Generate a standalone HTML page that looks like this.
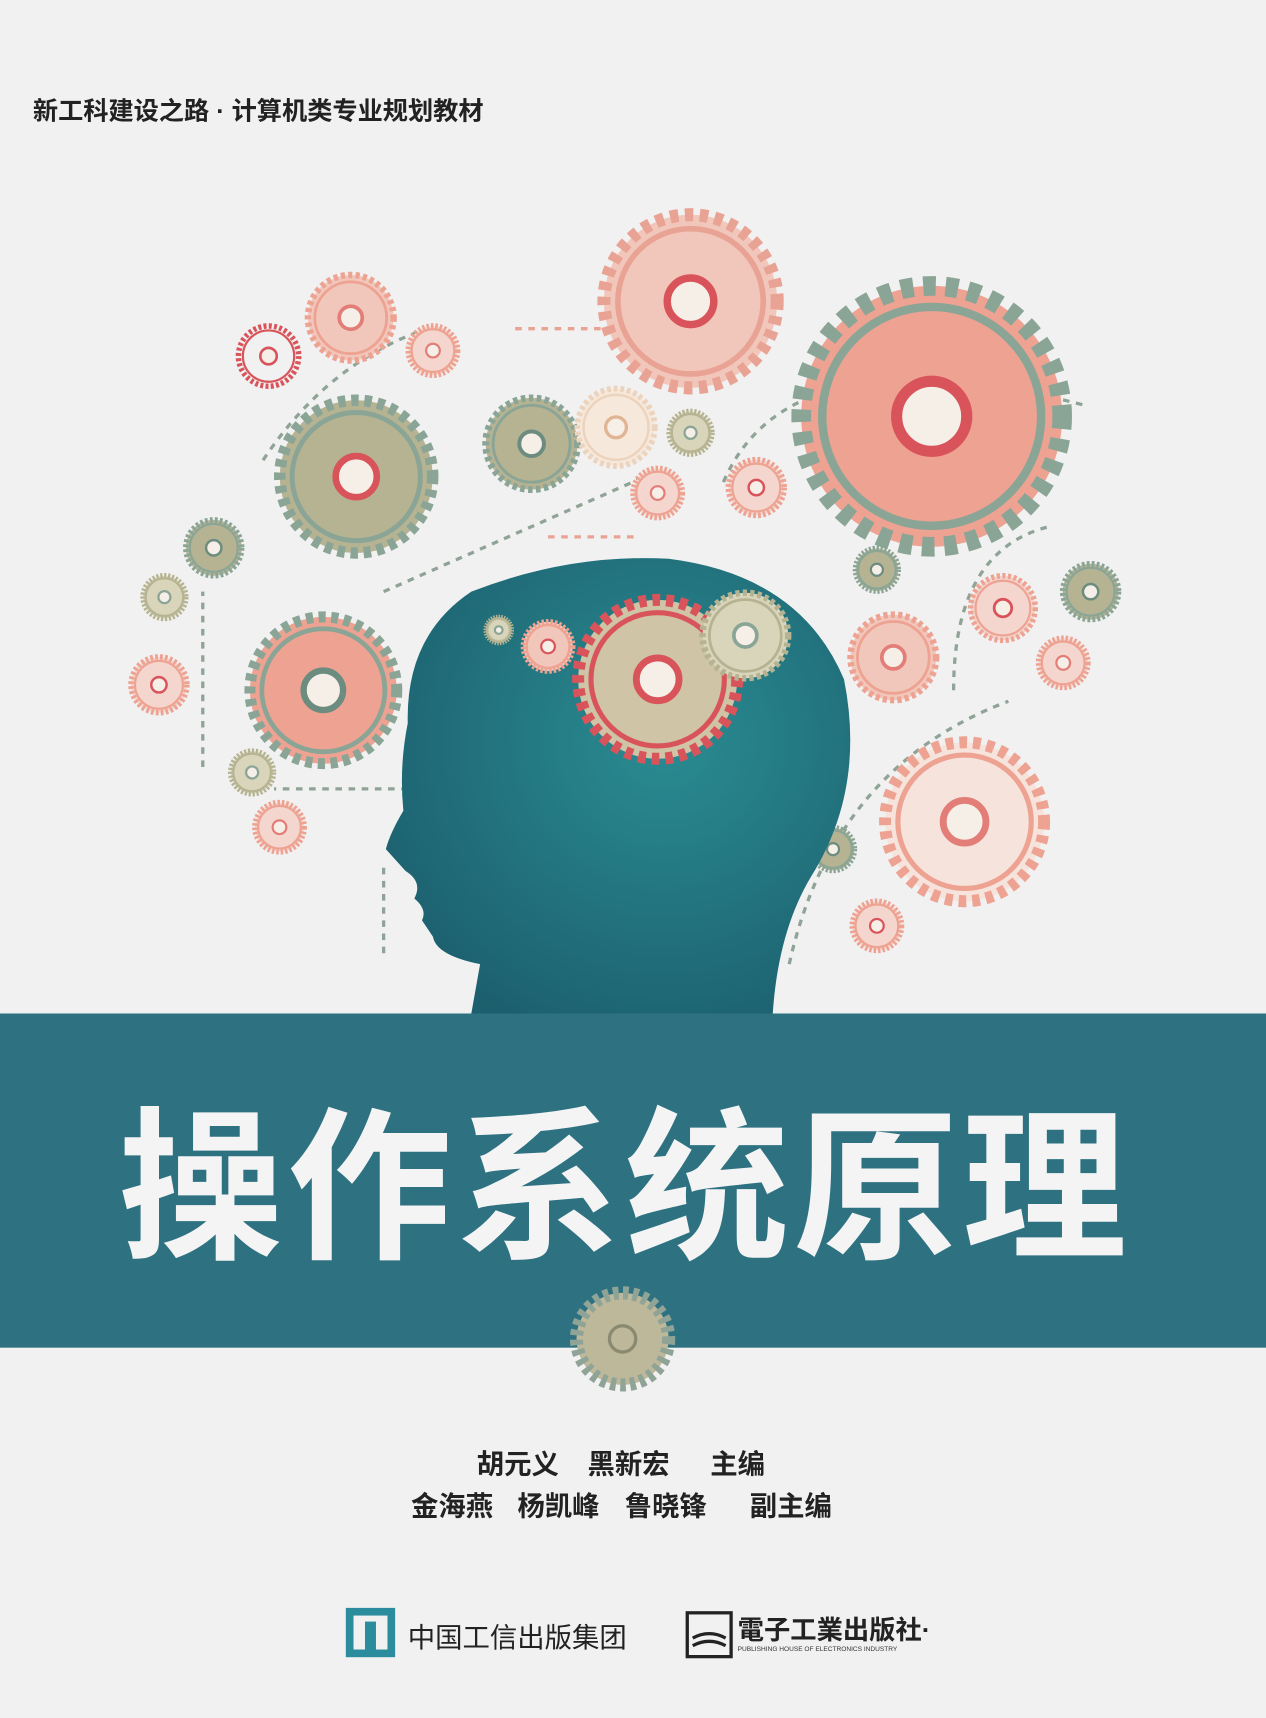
<!DOCTYPE html>
<html><head><meta charset="utf-8"><style>
html,body{margin:0;padding:0;background:#f1f1f1}
svg{display:block}
text{font-family:"Liberation Sans","Noto Sans CJK SC",sans-serif}
</style></head><body>
<svg width="1266" height="1718" viewBox="0 0 1155 1568" preserveAspectRatio="none" xmlns="http://www.w3.org/2000/svg">
<defs>
<radialGradient id="hg" cx="0.6" cy="0.4" r="0.7"><stop offset="0" stop-color="#2a8c92"/><stop offset="1" stop-color="#1c5f6e"/></radialGradient>
</defs>
<rect width="1155" height="1568" fill="#f1f1f1"/>
<text x="30" y="109" font-size="23" fill="#222" font-weight="bold">新工科建设之路 · 计算机类专业规划教材</text>

<g fill="none" stroke="#8fa496" stroke-width="3" stroke-dasharray="6 6">
<path d="M240,420 Q300,330 390,300"/><path d="M660,440 Q720,300 990,370"/><path d="M350,540 L600,430"/><path d="M870,630 Q870,500 960,480"/><path d="M185,700 L185,540"/><path d="M350,870 L350,790"/><path d="M720,880 Q760,700 920,640"/><path d="M420,720 L250,720"/><path d="M500,490 L580,490" stroke="#e9a394"/><path d="M470,300 L550,300" stroke="#e9a394"/>
</g>
<g id="gears"></g>

<path d="M430,925 L438,880 Q398,872 395,855 L385,840 Q390,830 378,820 Q386,805 370,795 L352,775 Q356,760 368,740 Q364,700 372,660 Q370,580 430,540 Q520,505 610,510 Q730,525 770,620 Q790,720 740,800 Q710,850 705,925 Z" fill="url(#hg)"/>
<g id="headgears"></g>

<rect x="0" y="925" width="1155" height="305" fill="#2e7282"/>
<text x="570" y="1137" text-anchor="middle" font-size="150" font-weight="bold" fill="#f4f4f4" letter-spacing="4">操作系统原理</text>
<g>
<circle cx="568" cy="1222" r="42" fill="#bdb89a" stroke="#8fa496" stroke-width="12" stroke-dasharray="5 4"/>
<circle cx="568" cy="1222" r="12" fill="none" stroke="#8a8a70" stroke-width="3"/>
</g>
<g font-size="25" fill="#222" font-weight="bold">
<text x="435" y="1345">胡元义</text><text x="536" y="1345">黑新宏</text><text x="648" y="1345">主编</text>
</g>
<g font-size="25" fill="#222" font-weight="bold">
<text x="375" y="1383">金海燕</text><text x="472" y="1383">杨凯峰</text><text x="570" y="1383">鲁晓锋</text><text x="684" y="1383">副主编</text>
</g>
<g>
<rect x="319" y="1471" width="38" height="38" fill="none" stroke="#2a8c9c" stroke-width="7"/>
<rect x="333" y="1480" width="10" height="26" fill="#2a8c9c"/>
<text x="372" y="1503" font-size="25" fill="#222" font-family="Liberation Serif,Noto Serif CJK SC,serif">中国工信出版集团</text>
</g>
<g>
<rect x="627" y="1472" width="40" height="40" fill="none" stroke="#222" stroke-width="3"/>
<path d="M632,1495 q15,-8 30,0 M632,1502 q15,-8 30,0" stroke="#222" stroke-width="3" fill="none"/>
<text x="673" y="1496" font-size="24" fill="#222" font-weight="bold">電子工業出版社·</text>
<text x="673" y="1507" font-size="6" fill="#333">PUBLISHING HOUSE OF ELECTRONICS INDUSTRY</text>
</g>
<script>
const gearsSpec=[
[630,275,85,'#e9a394','#f2c7bb','#d9545a'],[850,380,128,'#8aa596','#eda292','#d9545a'],
[325,435,75,'#8aa596','#b5b392','#d9545a'],[295,630,72,'#8aa596','#eda292','#6d8c80'],
[880,750,78,'#eda292','#f6e3dc','#e27d77'],[485,405,45,'#8aa596','#b5b392','#6d8c80'],
[320,290,42,'#eda292','#f2c7bb','#e27d77'],[245,325,30,'#d9545a','#f1f1f1','#d9545a'],
[562,390,38,'#ecd3bd','#f6e8da','#e0b593'],[195,500,28,'#8aa596','#b5b392','#6d8c80'],
[145,625,28,'#eda292','#f4d6ce','#d9545a'],[995,540,28,'#8aa596','#b5b392','#6d8c80'],
[970,605,25,'#eda292','#f4d6ce','#e27d77'],[915,555,32,'#eda292','#f4d6ce','#d9545a'],
[815,600,42,'#eda292','#f2c7bb','#e27d77'],[690,445,28,'#eda292','#f4d6ce','#d9545a'],
[600,450,25,'#eda292','#f4d6ce','#e27d77'],[395,320,25,'#eda292','#f4d6ce','#e27d77'],
[630,395,22,'#b5b392','#d8d5bb','#8aa596'],[150,545,22,'#b5b392','#d8d5bb','#8aa596'],
[230,705,22,'#b5b392','#d8d5bb','#8aa596'],[255,755,25,'#eda292','#f4d6ce','#e27d77'],
[800,845,25,'#eda292','#f4d6ce','#d9545a'],[760,775,22,'#8aa596','#b5b392','#6d8c80'],
[800,520,22,'#8aa596','#b5b392','#6d8c80']
];
const headSpec=[[600,620,78,'#d9545a','#cfc4a5','#d9545a'],[680,580,42,'#b5b392','#d8d5bb','#8aa596'],[500,590,25,'#eda292','#f2c7bb','#d9545a'],[455,575,14,'#b5b392','#d8d5bb','#8aa596']];
const ns='http://www.w3.org/2000/svg';
function draw(spec,gid){
 const g=document.getElementById(gid);
 spec.forEach(s=>{
  const [cx,cy,r,t,f,c]=s; if(!r) return;
  const gg=document.createElementNS(ns,'g');
  
  
  const w=Math.max(5,r*0.14);
  const a=document.createElementNS(ns,'circle');
  a.setAttribute('cx',cx);a.setAttribute('cy',cy);a.setAttribute('r',r-w/2);
  a.setAttribute('fill',f);a.setAttribute('stroke',t);a.setAttribute('stroke-width',w);
  a.setAttribute('stroke-dasharray',(r*0.09)+' '+(r*0.07));
  gg.appendChild(a);
  const b=document.createElementNS(ns,'circle');
  b.setAttribute('cx',cx);b.setAttribute('cy',cy);b.setAttribute('r',r*0.78);
  b.setAttribute('fill','none');b.setAttribute('stroke',t);b.setAttribute('stroke-width',Math.max(2,r*0.06));
  gg.appendChild(b);
  const d=document.createElementNS(ns,'circle');
  d.setAttribute('cx',cx);d.setAttribute('cy',cy);d.setAttribute('r',r*0.25);
  d.setAttribute('fill','#f6efe8');d.setAttribute('stroke',c);d.setAttribute('stroke-width',Math.max(2,r*0.08));
  gg.appendChild(d);
  g.appendChild(gg);
 });
}
draw(gearsSpec,'gears');draw(headSpec,'headgears');
</script>
</svg>
</body></html>
